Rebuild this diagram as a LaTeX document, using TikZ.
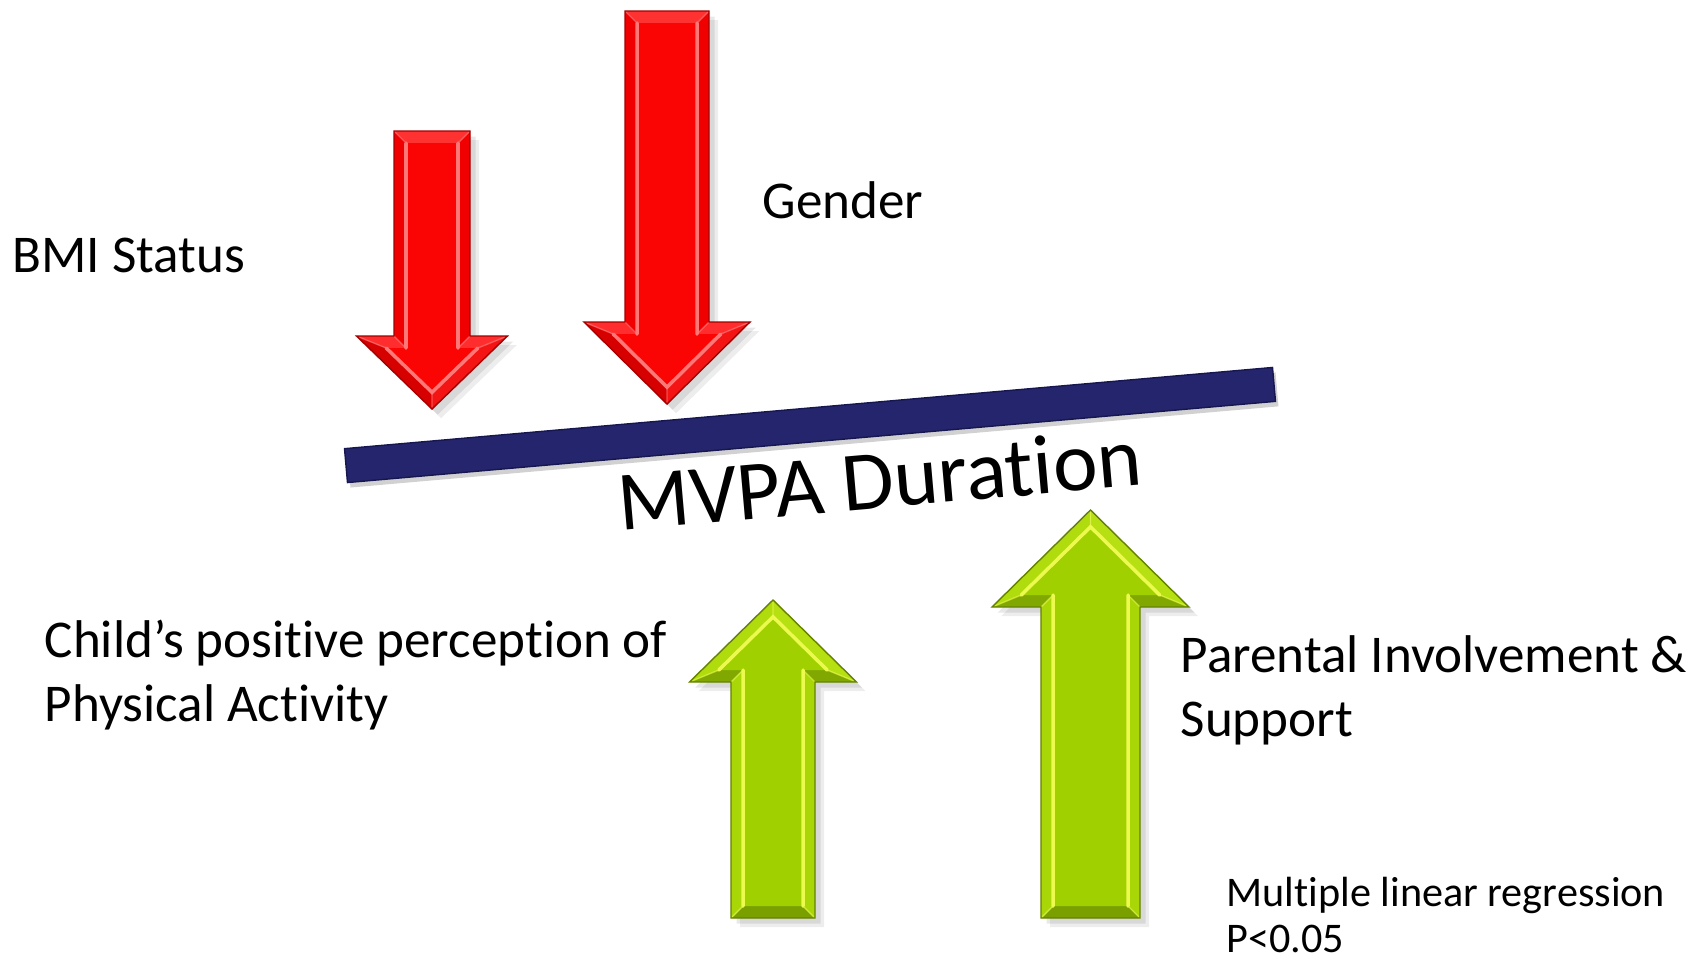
\documentclass[tikz,border=0pt]{standalone}
\usepackage{fontspec}
\setmainfont{Carlito}[Ligatures=NoCommon]
\usetikzlibrary{calc}

% red arrow shades
\definecolor{redface}{RGB}{250,4,4}
\definecolor{redtail}{RGB}{255,50,50}
\definecolor{redside}{RGB}{240,0,0}
\definecolor{redbase}{RGB}{255,45,45}
\definecolor{redrdiag}{RGB}{245,20,20}
\definecolor{redldiag}{RGB}{215,0,0}
\definecolor{redlight}{RGB}{255,120,120}
\definecolor{reddark}{RGB}{165,0,0}
% green arrow shades
\definecolor{grnface}{RGB}{160,208,0}
\definecolor{grntail}{RGB}{122,160,0}
\definecolor{grnside}{RGB}{168,214,6}
\definecolor{grnbase}{RGB}{128,168,0}
\definecolor{grnrdiag}{RGB}{182,224,18}
\definecolor{grnldiag}{RGB}{176,220,14}
\definecolor{grnlight}{RGB}{236,250,80}
\definecolor{grndark}{RGB}{100,130,0}
% bar
\definecolor{navybar}{RGB}{36,37,108}
\definecolor{navyedge}{RGB}{22,22,80}

% bevel width of the arrows
\def\bd{12}

% #1 scope options (tip position, direction), #2 half shaft width,
% #3 half head width, #4 head height, #5 total length, #6 colour prefix
\newcommand{\bevarrow}[6]{%
  \begin{scope}[#1]
    \pgfmathsetmacro\aS{sqrt(1+((#4)/(#3))^2)}
    \pgfmathsetmacro\aDX{((#4)-\bd-\bd*\aS)*(#3)/(#4)}
    \pgfmathsetmacro\aTY{-\bd*\aS}
    \coordinate (P1) at (-#2,-#5);
    \coordinate (P2) at (#2,-#5);
    \coordinate (P3) at (#2,-#4);
    \coordinate (P4) at (#3,-#4);
    \coordinate (P5) at (0,0);
    \coordinate (P6) at (-#3,-#4);
    \coordinate (P7) at (-#2,-#4);
    \coordinate (Q1) at (-#2+\bd,-#5+\bd);
    \coordinate (Q2) at (#2-\bd,-#5+\bd);
    \coordinate (Q3) at (#2-\bd,-#4+\bd);
    \coordinate (Q4) at (\aDX,-#4+\bd);
    \coordinate (Q5) at (0,\aTY);
    \coordinate (Q6) at (-\aDX,-#4+\bd);
    \coordinate (Q7) at (-#2+\bd,-#4+\bd);
  \end{scope}
  % soft drop shadow
  \fill[black,opacity=.07,transform canvas={xshift=2.6pt,yshift=-2.6pt}]
    (P1)--(P2)--(P3)--(P4)--(P5)--(P6)--(P7)--cycle;
  \fill[black,opacity=.09,transform canvas={xshift=1.6pt,yshift=-1.6pt}]
    (P1)--(P2)--(P3)--(P4)--(P5)--(P6)--(P7)--cycle;
  % bevel facets
  \fill[#6tail]  (P1)--(P2)--(Q2)--(Q1)--cycle;
  \fill[#6side]  (P2)--(P3)--(Q3)--(Q2)--cycle;
  \fill[#6base]  (P3)--(P4)--(Q4)--(Q3)--cycle;
  \fill[#6rdiag] (P4)--(P5)--(Q5)--(Q4)--cycle;
  \fill[#6ldiag] (P5)--(P6)--(Q6)--(Q5)--cycle;
  \fill[#6base]  (P6)--(P7)--(Q7)--(Q6)--cycle;
  \fill[#6side]  (P7)--(P1)--(Q1)--(Q7)--cycle;
  % front face
  \fill[#6face] (Q1)--(Q2)--(Q3)--(Q4)--(Q5)--(Q6)--(Q7)--cycle;
  % highlights along the inner bevel edge
  \draw[#6light,line width=1pt,line cap=round]
    (Q7)--(Q1) (Q2)--(Q3) (Q4)--(Q5)--(Q6);
  \draw[#6light,line width=.4pt,opacity=.6]
    (P1)--(Q1) (P2)--(Q2) (P3)--(Q3) (P4)--(Q4) (P5)--(Q5) (P6)--(Q6) (P7)--(Q7);
  % outer edge
  \draw[#6dark,line width=.4pt,line join=miter]
    (P1)--(P2)--(P3)--(P4)--(P5)--(P6)--(P7)--cycle;
}

\tikzset{
  label/.style={font=\fontsize{15.1}{18}\selectfont, anchor=base west, inner sep=0pt},
  small/.style={font=\fontsize{12}{14.5}\selectfont, anchor=base west, inner sep=0pt},
  bar/.style={rectangle, inner sep=0pt, minimum width=9.31cm, minimum height=0.34cm,
    rotate=5, fill=navybar, draw=navyedge, line width=.4pt},
  barshade/.style={bar, fill=black, draw=none, opacity=.18},
}

\begin{document}
\begin{tikzpicture}[x=0.01cm,y=-0.01cm]
\useasboundingbox (0,0) rectangle (1706,960);

% arrows pushing the duration down
\bevarrow{shift={(432,409)}}{38}{75.5}{73}{278}{red}
\bevarrow{shift={(667,404)}}{42}{83}{82}{393}{red}

% arrows pushing the duration up
\bevarrow{shift={(773,600)},yscale=-1}{42}{83.5}{82}{318}{grn}
\bevarrow{shift={(1090.5,510)},yscale=-1}{49.5}{98.5}{97}{408}{grn}

% the tilted bar
\node[barshade] (barshadow) at (813,430) {};
\node[bar] (bar) at (810,425) {};

% texts
\node[rotate=5, anchor=base, inner sep=0pt, font=\fontsize{24}{29}\selectfont]
  (mvpa) at (882,508) {MVPA Duration};

\node[label] (bmi) at (12,272) {BMI Status};
\node[label] (gender) at (762,218) {Gender};
\node[label] (child1) at (44,657) {Child’s positive perception of};
\node[label] (child2) at (44,721) {Physical Activity};
\node[label] (parent1) at (1180,672) {Parental Involvement \&};
\node[label] (parent2) at (1180,736) {Support};
\node[small] (mlr) at (1226,906) {Multiple linear regression};
\node[small] (pval) at (1226,952) {P<0.05};
\end{tikzpicture}
\end{document}
